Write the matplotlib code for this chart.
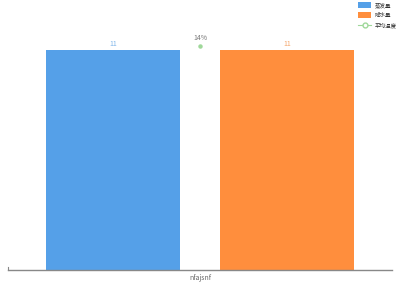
import matplotlib
matplotlib.use("Agg")
import matplotlib.pyplot as plt
from matplotlib.patches import Patch
from matplotlib.lines import Line2D

plt.rcParams['font.family'] = ['Noto Sans CJK SC', 'DejaVu Sans']

categories = ["nfajsnf"]
series_names = ["蒸发量", "降水量", "平均温度"]
evaporation = [11]
precipitation = [11]
temperature = [14]

blue = "#55a0e8"
orange = "#ff8e3d"
green = "#9fd89a"

fig = plt.figure(figsize=(4, 3), dpi=100)
ax = fig.add_axes([0.02, 0.1, 0.96, 0.7333])
ax2 = ax.twinx()

w = 0.349
off = 0.2266
xs = list(range(len(categories)))
b1 = ax.bar([x - off for x in xs], evaporation, width=w, color=blue)
b2 = ax.bar([x + off for x in xs], precipitation, width=w, color=orange)
for x, v in zip(xs, evaporation):
    ax.text(x - off, v + 0.12, str(v), ha='center', va='bottom', fontsize=5, color='#7fb5ea')
for x, v in zip(xs, precipitation):
    ax.text(x + off, v + 0.12, str(v), ha='center', va='bottom', fontsize=5, color='#f5a56a')

ax2.plot(xs, temperature, color=green, marker='o', markersize=2.2, linewidth=1,
         markerfacecolor=green, markeredgecolor=green, zorder=5, clip_on=False)
for x, v in zip(xs, temperature):
    ax2.text(x, v + 0.25, f"{v}%", ha='center', va='bottom', fontsize=5, color='#777777')

ax.set_xlim(-0.5, 0.5)
ax.set_ylim(0, 11)
ax2.set_ylim(0, 14 * 219 / 223)

for a in (ax, ax2):
    for s in ['top', 'right', 'left']:
        a.spines[s].set_visible(False)
    a.set_yticks([])
ax2.spines['bottom'].set_visible(False)
ax.spines['bottom'].set_color('#888888')
ax.spines['bottom'].set_linewidth(1)
ax.set_xticks([-0.5, 0], labels=['', categories[0]])
ax.tick_params(axis='x', length=0, labelsize=5, labelcolor='#666666', pad=3)
ax.plot([-0.5, -0.5], [0, 0.15], color='#888888', lw=0.8, clip_on=False)

handles = [Patch(facecolor=blue, edgecolor='none'),
           Patch(facecolor=orange, edgecolor='none'),
           Line2D([0], [0], color=green, marker='o', markerfacecolor='white',
                  markersize=3.5, lw=0.8)]
leg = fig.legend(handles, series_names, loc='upper left', bbox_to_anchor=(0.895, 0.993),
                 frameon=False, fontsize=4.0, handlelength=2.4, handleheight=1.3,
                 labelspacing=0.75, handletextpad=0.55, borderpad=0.0, borderaxespad=0.0)
for t in leg.get_texts():
    t.set_color('#333333')

fig.savefig("out.png", dpi=100)
